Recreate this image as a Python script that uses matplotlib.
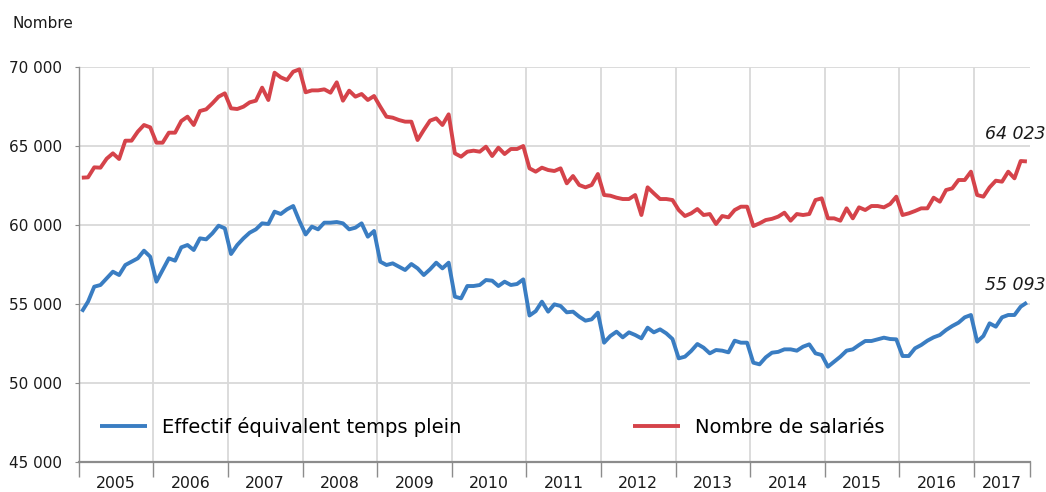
import matplotlib
matplotlib.use("Agg")
import matplotlib.pyplot as plt
import numpy as np
from matplotlib.ticker import FuncFormatter, FixedLocator

plt.rcParams['font.family'] = ['DejaVu Sans']

# monthly data, janvier 2005 -> septembre 2017
years = ['2005', '2006', '2007', '2008', '2009', '2010', '2011',
         '2012', '2013', '2014', '2015', '2016', '2017']

salaries = [
    62995, 63016, 63649, 63628, 64197, 64535, 64176, 65337, 65337, 65906, 66329, 66181,  # 2005
    65210, 65210, 65843, 65843, 66582, 66856, 66329, 67215, 67320, 67700, 68122, 68333,  # 2006
    67383, 67341, 67489, 67763, 67869, 68692, 67911, 69641, 69346, 69177, 69704, 69852,  # 2007
    68400, 68520, 68520, 68586, 68375, 69029, 67869, 68502, 68122, 68291, 67911, 68164,  # 2008
    67489, 66856, 66793, 66645, 66540, 66540, 65379, 66012, 66603, 66750, 66329, 67004,  # 2009
    64535, 64324, 64640, 64704, 64640, 64957, 64366, 64894, 64493, 64810, 64810, 65000,  # 2010
    63586, 63375, 63628, 63480, 63417, 63586, 62636, 63100, 62531, 62383, 62531, 63227,  # 2011
    61898, 61855, 61729, 61644, 61644, 61898, 60632, 62383, 62003, 61644, 61644, 61581,  # 2012
    60948, 60568, 60737, 61011, 60632, 60695, 60062, 60568, 60484, 60948, 61159, 61159,  # 2013
    59935, 60104, 60315, 60390, 60530, 60779, 60273, 60695, 60632, 60695, 61581, 61687,  # 2014
    60421, 60421, 60273, 61054, 60421, 61117, 60948, 61201, 61201, 61117, 61328, 61792,  # 2015
    60632, 60737, 60885, 61054, 61054, 61729, 61476, 62214, 62320, 62847, 62847, 63375,  # 2016
    61898, 61792, 62383, 62805, 62742, 63375, 62953, 64050, 64023,                       # 2017
]

etp = [
    54514, 55147, 56096, 56202, 56624, 57046, 56835, 57468, 57679, 57890, 58375, 57995,  # 2005
    56413, 57151, 57890, 57742, 58586, 58734, 58417, 59156, 59092, 59472, 59957, 59789,  # 2006
    58164, 58734, 59156, 59514, 59725, 60105, 60063, 60844, 60696, 60991, 61202, 60250,  # 2007
    59400, 59900, 59725, 60147, 60147, 60189, 60105, 59725, 59831, 60105, 59261, 59620,  # 2008
    57679, 57468, 57573, 57362, 57151, 57531, 57257, 56835, 57193, 57615, 57257, 57615,  # 2009
    55463, 55357, 56138, 56138, 56202, 56518, 56476, 56138, 56413, 56202, 56265, 56560,  # 2010
    54270, 54546, 55148, 54515, 54979, 54873, 54473, 54515, 54198, 53945, 54029, 54451,  # 2011
    52552, 52974, 53249, 52890, 53206, 53038, 52827, 53502, 53206, 53396, 53143, 52785,  # 2012
    51561, 51666, 52025, 52468, 52236, 51877, 52088, 52046, 51940, 52679, 52552, 52552,  # 2013
    51286, 51181, 51624, 51919, 51970, 52130, 52130, 52046, 52299, 52447, 51877, 51772,  # 2014
    51033, 51350, 51666, 52046, 52130, 52405, 52658, 52658, 52763, 52869, 52784, 52763,  # 2015
    51708, 51708, 52194, 52405, 52679, 52890, 53038, 53354, 53607, 53818, 54156, 54304,  # 2016
    52616, 52974, 53776, 53565, 54156, 54304, 54304, 54831, 55093,                       # 2017
]

blue = '#3A7DC2'
red = '#D5434A'
axis_grey = '#8C8C8C'
grid_grey = '#D9D9D9'

W, H = 1046, 492
fig = plt.figure(figsize=(W / 100, H / 100), dpi=100)
ax = fig.add_axes([78.7 / W, 1 - 462 / H, (1030 - 78.7) / W, (462 - 67) / H])

x = np.arange(len(salaries))
ax.plot(x, etp, color=blue, lw=2.8, solid_capstyle='butt', label='Effectif équivalent temps plein', zorder=3)
ax.plot(x, salaries, color=red, lw=2.8, solid_capstyle='butt', label='Nombre de salariés', zorder=3)

n = len(salaries)
ax.set_xlim(-0.5, n - 0.5)
ax.set_ylim(45000, 70000)

# y axis
ax.set_yticks(np.arange(45000, 70001, 5000))
ax.yaxis.set_major_formatter(FuncFormatter(lambda v, p: f"{v:,.0f}".replace(',', ' ')))
ax.yaxis.grid(True, color=grid_grey, lw=1.3, zorder=0)
ax.tick_params(axis='y', length=3, color=axis_grey, pad=9, labelsize=11, labelcolor='#1a1a1a')

# x axis: year separators as ticks, labels in the middle
bounds = [12 * i - 0.5 for i in range(len(years))] + [n - 0.5]
centers = [(bounds[i] + bounds[i + 1]) / 2 for i in range(len(years))]
ax.xaxis.set_major_locator(FixedLocator(bounds))
ax.xaxis.set_major_formatter(FuncFormatter(lambda v, p: ''))
ax.xaxis.set_minor_locator(FixedLocator(centers))
ax.set_xticklabels(years, minor=True)
ax.tick_params(axis='x', which='major', length=11, color=axis_grey, width=1)
ax.tick_params(axis='x', which='minor', length=0, pad=10, labelsize=11.3, labelcolor='#1a1a1a')
for b in bounds[1:-1]:
    ax.axvline(b, color=grid_grey, lw=1.3, zorder=0)

for s in ['top', 'right']:
    ax.spines[s].set_visible(False)
ax.spines['left'].set_color(axis_grey)
ax.spines['left'].set_linewidth(1)
ax.spines['bottom'].set_color(axis_grey)
ax.spines['bottom'].set_linewidth(1.6)
ax.set_axisbelow(True)

# last values
ax.annotate(f"{salaries[-1]:,}".replace(',', ' '), (x[-1], salaries[-1]), xytext=(-12, 27),
            textcoords='offset pixels', ha='center', va='center', fontsize=12.5,
            style='italic', color='#1a1a1a', annotation_clip=False)
ax.annotate(f"{etp[-1]:,}".replace(',', ' '), (x[-1], etp[-1]), xytext=(-12, 18),
            textcoords='offset pixels', ha='center', va='center', fontsize=12.5,
            style='italic', color='#1a1a1a', annotation_clip=False)

fig.text(12 / W, 1 - 23 / H, 'Nombre', fontsize=11, va='center', ha='left', color='#1a1a1a')

fig.legend(loc='center left', bbox_to_anchor=(100 / W, 1 - 427 / H), ncol=2, frameon=False,
           fontsize=14, handlelength=2.42, handletextpad=0.77, columnspacing=8.8,
           borderpad=0, borderaxespad=0)

fig.savefig('out.png', dpi=100)
